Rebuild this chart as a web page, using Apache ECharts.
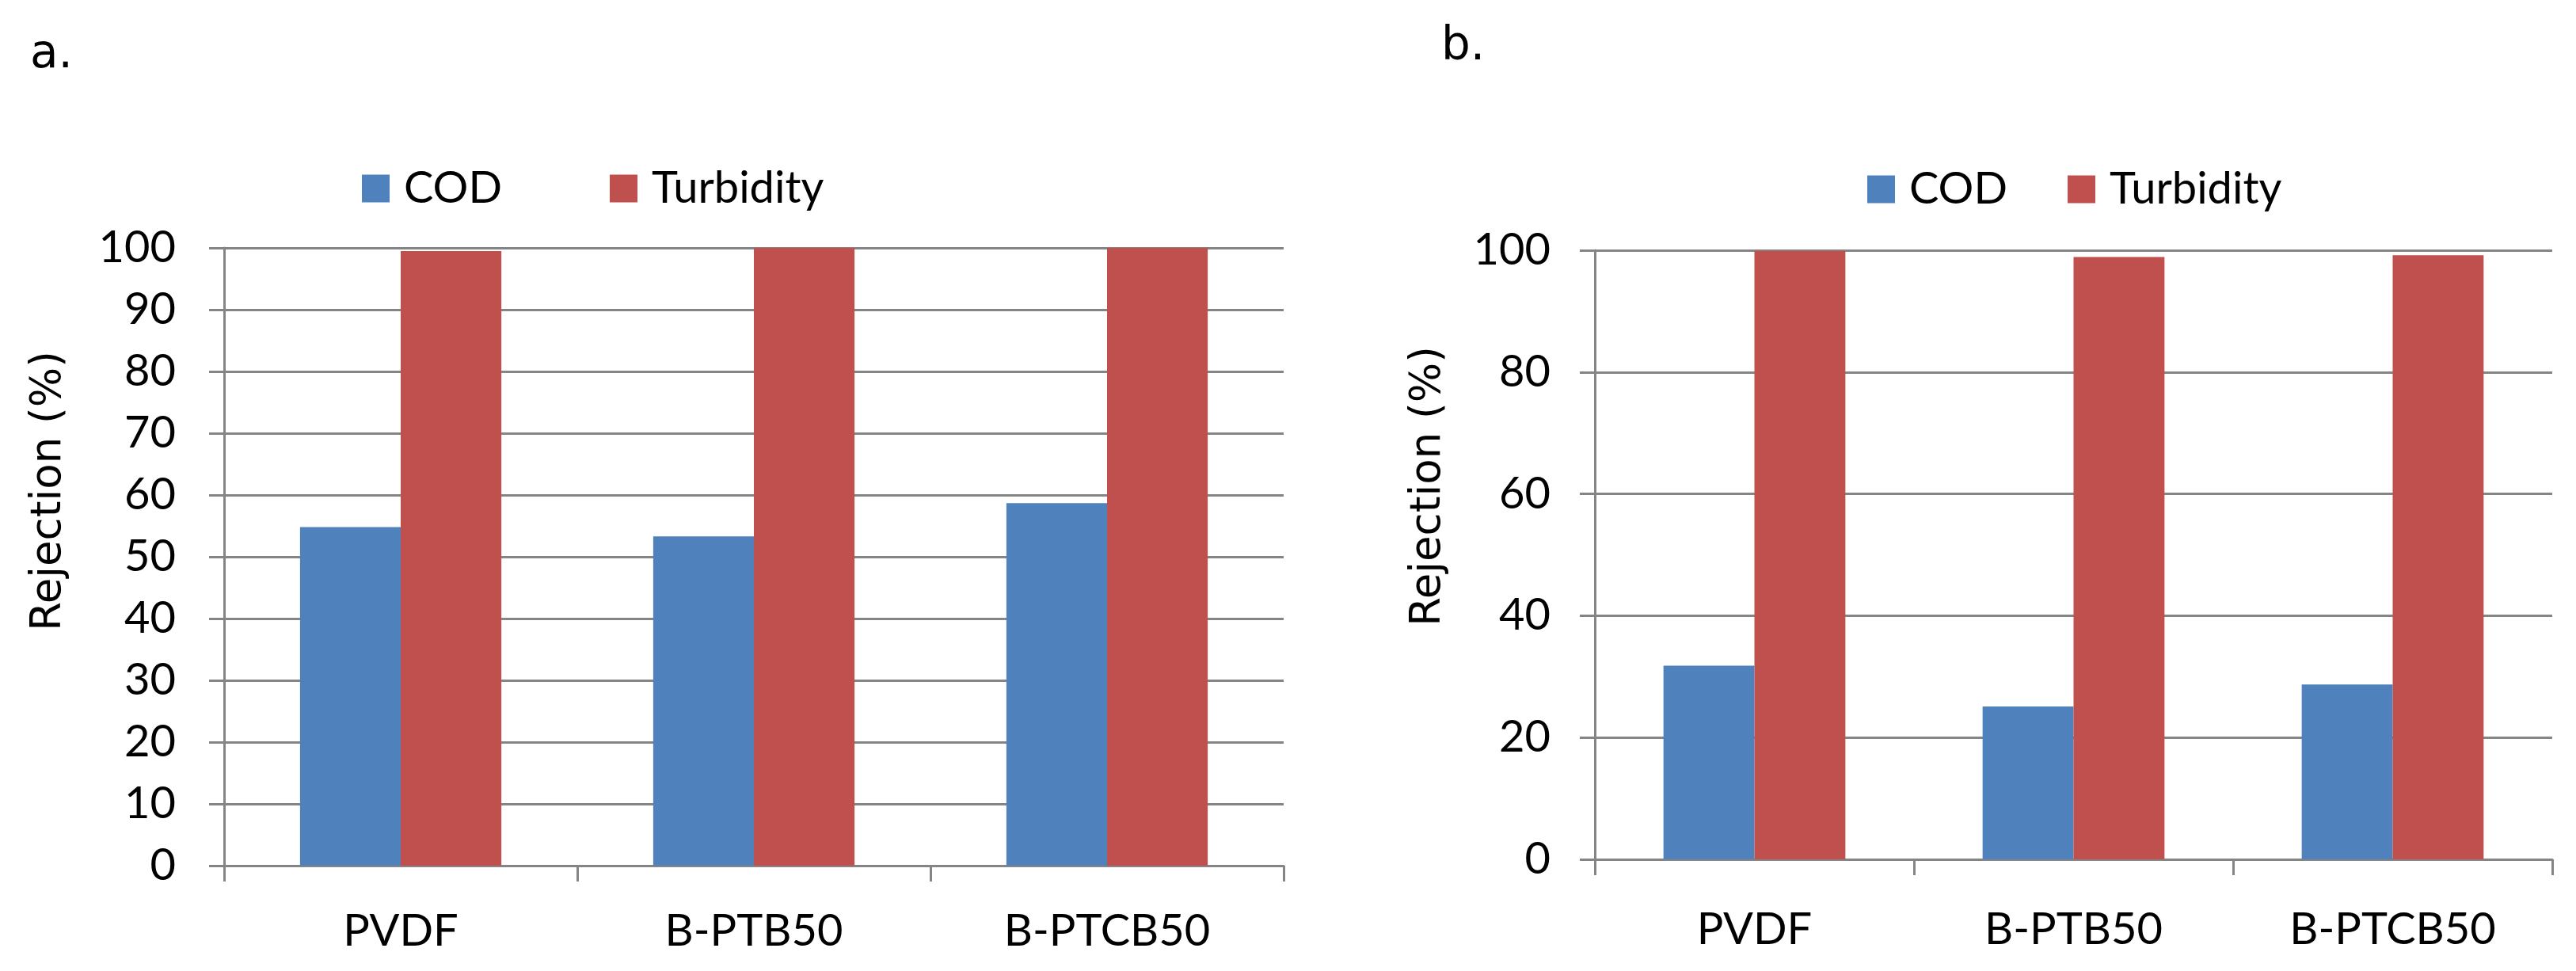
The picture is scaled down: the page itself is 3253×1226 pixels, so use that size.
<!DOCTYPE html>
<html>
<head>
<meta charset="utf-8">
<script src="https://cdn.jsdelivr.net/npm/echarts@6/dist/echarts.min.js"></script>
<style>
html,body{margin:0;padding:0;background:#fff;}
#c{width:3253px;height:1226px;}
</style>
</head>
<body>
<div id="c"></div>
<script>
// ---- data ----
const categories = ['PVDF', 'B-PTB50', 'B-PTCB50'];
const seriesNames = ['COD', 'Turbidity'];
const codA = [54.8, 53.3, 58.7];
const turbidityA = [99.5, 100, 100];
const codB = [31.8, 25.1, 28.7];
const turbidityB = [99.9, 98.9, 99.2];
const yMaxA = 100, yStepA = 10;
const yMaxB = 100, yStepB = 20;
const panelLabels = ['a.', 'b.'];
const axisTitle = 'Rejection (%)';

// ---- style ----
const BLUE = '#4F81BD', RED = '#C0504D', GRAY = '#858585';
const FONT = 'Lato';
const FS = 56;
const TITLE_FONT = '"DejaVu Sans", Verdana, sans-serif';

// fit the rotated axis title to the reference length (~353 px)
const ctx = document.createElement('canvas').getContext('2d');
ctx.font = '100px ' + TITLE_FONT;
const titleFS = Math.round(100 * 353 / ctx.measureText(axisTitle).width);

const chart = echarts.init(document.getElementById('c'));

function yAxis(gridIndex, max, step, margin) {
  return {
    type: 'value', gridIndex, min: 0, max, interval: step,
    axisLine: {show: true, lineStyle: {color: GRAY, width: 3}},
    axisTick: {show: true, length: 19, lineStyle: {color: GRAY, width: 3}},
    splitLine: {show: true, lineStyle: {color: GRAY, width: 3}},
    axisLabel: {color: '#000', fontFamily: FONT, fontSize: FS, margin}
  };
}
function xAxis(gridIndex, margin) {
  return {
    type: 'category', gridIndex, data: categories,
    axisLine: {show: true, lineStyle: {color: GRAY, width: 3}},
    axisTick: {show: true, length: 20, lineStyle: {color: GRAY, width: 3}},
    axisLabel: {color: '#000', fontFamily: FONT, fontSize: FS, margin}
  };
}
function bar(name, data, idx, color) {
  return {
    type: 'bar', name, data, xAxisIndex: idx, yAxisIndex: idx,
    barGap: '0%', barCategoryGap: '43%',
    itemStyle: {color},
    emphasis: {disabled: true}, animation: false
  };
}
function legend(name, left, top) {
  return {
    data: [name], left, top, orient: 'horizontal',
    itemWidth: 35, itemHeight: 35, icon: 'rect',
    textStyle: {color: '#000', fontFamily: FONT, fontSize: FS, padding: [0, 0, 0, 13]},
    selectedMode: false
  };
}

chart.setOption({
  backgroundColor: '#fff',
  animation: false,
  grid: [
    {left: 283, top: 313, width: 1338, height: 780},
    {left: 2014, top: 316, width: 1209, height: 769}
  ],
  xAxis: [xAxis(0, 55), xAxis(1, 61)],
  yAxis: [yAxis(0, yMaxA, yStepA, 61), yAxis(1, yMaxB, yStepB, 56)],
  legend: [
    legend(seriesNames[0], 452, 205),
    legend(seriesNames[1], 765, 205),
    legend(seriesNames[0], 2353, 206),
    legend(seriesNames[1], 2606, 206)
  ],
  series: [
    bar(seriesNames[0], codA, 0, BLUE),
    bar(seriesNames[1], turbidityA, 0, RED),
    bar(seriesNames[0], codB, 1, BLUE),
    bar(seriesNames[1], turbidityB, 1, RED)
  ],
  graphic: [
    {type: 'text', x: 38, y: 70, style: {text: panelLabels[0], fontFamily: TITLE_FONT, fontSize: 58, fill: '#000', textAlign: 'left', textVerticalAlign: 'middle'}},
    {type: 'text', x: 1820, y: 60, style: {text: panelLabels[1], fontFamily: TITLE_FONT, fontSize: 58, fill: '#000', textAlign: 'left', textVerticalAlign: 'middle'}},
    {type: 'text', x: 62, y: 620, rotation: Math.PI / 2, style: {text: axisTitle, fontFamily: TITLE_FONT, fontSize: titleFS, fill: '#000', textAlign: 'center', textVerticalAlign: 'middle'}},
    {type: 'text', x: 1804, y: 614, rotation: Math.PI / 2, style: {text: axisTitle, fontFamily: TITLE_FONT, fontSize: titleFS, fill: '#000', textAlign: 'center', textVerticalAlign: 'middle'}}
  ]
});
</script>
</body>
</html>
